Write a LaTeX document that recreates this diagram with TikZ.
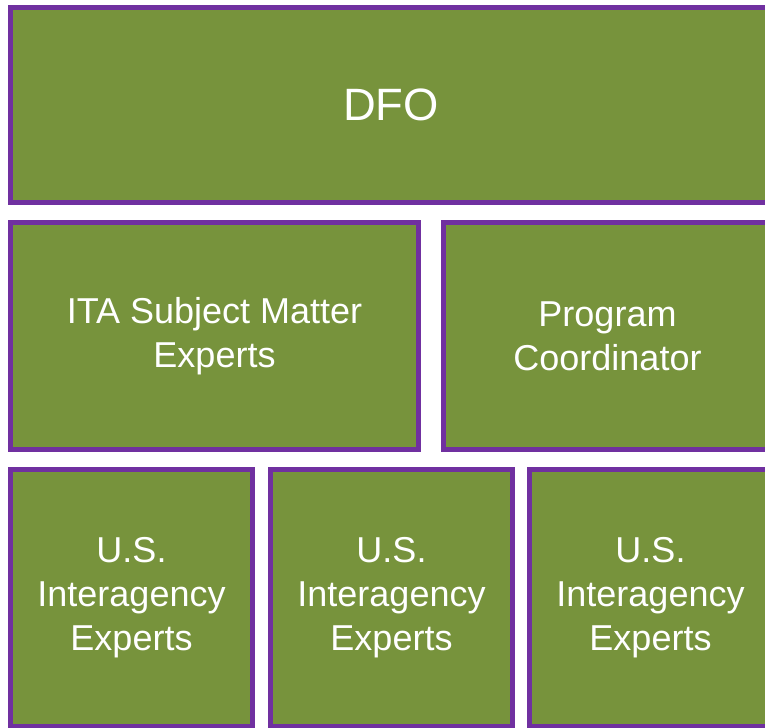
\documentclass[tikz,border=0pt]{standalone}
\usepackage{fontspec}
\setmainfont{Liberation Sans}
\definecolor{olivebox}{HTML}{77933C}
\definecolor{purpleline}{HTML}{7030A0}
\tikzset{
  orgbox/.style={draw=purpleline, fill=olivebox, line width=3.75pt, text=white,
    align=center, inner sep=0pt, font=\fontsize{27}{33}\selectfont},
}
\begin{document}
\begin{tikzpicture}[x=0.75pt,y=-0.75pt]
\useasboundingbox (0,0) rectangle (765,728);
\clip (0,0) rectangle (765,728);
% top row
\node[orgbox, minimum width=570.75pt, minimum height=146.25pt, font=\fontsize{34}{40}\selectfont] (dfo) at (391,105) {DFO};
% middle row
\node[orgbox, minimum width=306pt, minimum height=170.25pt] (ita) at (214.5,336) {ITA Subject Matter\\Experts};
\node[orgbox, minimum width=246pt, minimum height=170.25pt] (coord) at (607.5,336) {Program\\Coordinator};
% bottom row
\node[orgbox, minimum width=181.5pt, minimum height=192.75pt] (usa) at (131.5,598) {U.S.\\Interagency\\Experts};
\node[orgbox, minimum width=181.5pt, minimum height=192.75pt] (usb) at (391.5,598) {U.S.\\Interagency\\Experts};
\node[orgbox, minimum width=181.5pt, minimum height=192.75pt] (usc) at (650.5,598) {U.S.\\Interagency\\Experts};
\end{tikzpicture}
\end{document}
